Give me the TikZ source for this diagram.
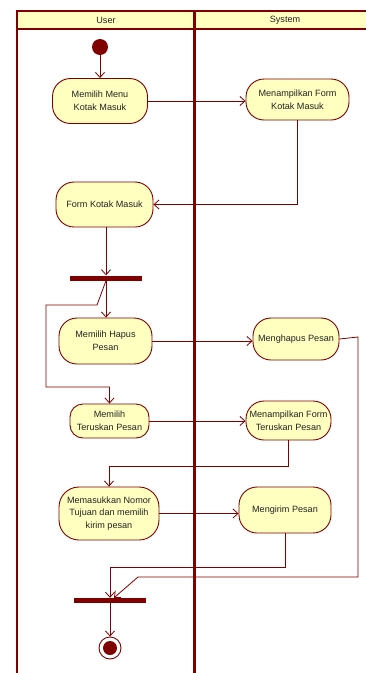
\documentclass[tikz,border=0pt]{standalone}
\usepackage{fontspec}
\setmainfont{Liberation Sans}
\usetikzlibrary{arrows.meta}
\definecolor{umlred}{RGB}{128,0,0}
\definecolor{umlfill}{RGB}{255,255,192}
\definecolor{umltext}{RGB}{35,35,35}
\tikzset{
  act/.style={draw=umlred, fill=umlfill, line width=0.9pt, rounded corners=18pt,
    align=center, text=umltext, inner sep=1pt,
    font=\fontsize{9.1}{12.8}\selectfont},
  bar/.style={fill=umlred, inner sep=0pt, minimum height=5pt},
  flow/.style={draw=umlred, line width=0.8pt,
    -{Straight Barb[length=5pt,width=9pt,line width=0.8pt]}},
  lane/.style={draw=umlred, line width=1.6pt},
  lanetitle/.style={text=umltext, font=\fontsize{9.1}{10}\selectfont}
}
\begin{document}
\begin{tikzpicture}[x=1pt,y=-1pt]
\useasboundingbox (0,0) rectangle (366,673);

% swimlane frame and headers
\fill[umlfill] (17,11) rectangle (366,29);
\draw[lane] (366,11) -- (17,11) -- (17,673);
\draw[draw=umlred, line width=1.2pt] (17,29) -- (366,29);
\draw[draw=umlred, line width=3.6pt] (194.5,11) -- (194.5,673);
\node[lanetitle] (hUser) at (106,20) {User};
\node[lanetitle] (hSystem) at (285,20) {System};

% initial and final states
\node[circle, fill=umlred, minimum size=16pt, inner sep=0pt] (start) at (100,47) {};
\node[circle, draw=umlred, fill=white, line width=0.9pt, minimum size=22pt, inner sep=0pt] (end) at (110,648) {};
\fill[umlred] (end) circle (7pt);

% actions
\node[act, minimum width=95pt, minimum height=45pt] (n1) at (100,101) {Memilih Menu\\Kotak Masuk};
\node[act, minimum width=103pt, minimum height=41pt] (n2) at (297.5,99.5) {Menampilkan Form\\Kotak Masuk};
\node[act, minimum width=97pt, minimum height=45pt] (n3) at (104.5,204.5) {Form Kotak Masuk};
\node[act, minimum width=93pt, minimum height=46pt] (n4) at (105.5,341) {Memilih Hapus\\Pesan};
\node[act, minimum width=86pt, minimum height=42pt] (n5) at (296,339) {Menghapus Pesan};
\node[act, minimum width=79pt, minimum height=34pt, rounded corners=13pt] (n6) at (109.5,421) {Memilih\\Teruskan Pesan};
\node[act, minimum width=85pt, minimum height=39pt] (n7) at (288.5,420.5) {Menampilkan Form\\Teruskan Pesan};
\node[act, minimum width=100pt, minimum height=53pt, rounded corners=20pt] (n8) at (109,513.5) {Memasukkan Nomor\\Tujuan dan memilih\\kirim pesan};
\node[act, minimum width=92pt, minimum height=46pt] (n9) at (285,510) {Mengirim Pesan};

% fork and join bars
\node[bar, minimum width=72pt] (fork1) at (106,278) {};
\node[bar, minimum width=72pt] (fork2) at (110,600.5) {};

% bend points
\coordinate (k1) at (97,305);
\coordinate (k2) at (46,305);
\coordinate (k3) at (46,387);
\coordinate (r1) at (0,466);
\coordinate (r2) at (0,567);
\coordinate (k5) at (358,337);
\coordinate (k6) at (358,577);
\coordinate (k7) at (138,577);

% control flow
\draw[flow] (start) -- (n1.north);
\draw[flow] (n1.east) -- (n1.east -| n2.west);
\draw[flow] (n2.south) |- (n3.east);
\draw[flow] (n3.south -| fork1) -- (fork1.north);
\draw[flow] (fork1.south) -- (fork1.south |- n4.north);
\draw[flow] (fork1.south) -- (k1) -- (k2) -- (k3) -| (n6.north);
\draw[flow] (n4.east) -- (n4.east -| n5.west);
\draw[flow] (n6.east) -- (n6.east -| n7.west);
\draw[flow] (n7.south) -- (n7.south |- r1) -| (n8.north);
\draw[flow] (n8.east) -- (n8.east -| n9.west);
\draw[flow] (n9.south) -- (n9.south |- r2) -| (fork2.north);
\draw[flow] (n5.east) -- (k5) -- (k6) -- (k7) -- ([xshift=4pt]fork2.north);
\draw[flow] (fork2.south) -- (end.north);
\end{tikzpicture}
\end{document}
